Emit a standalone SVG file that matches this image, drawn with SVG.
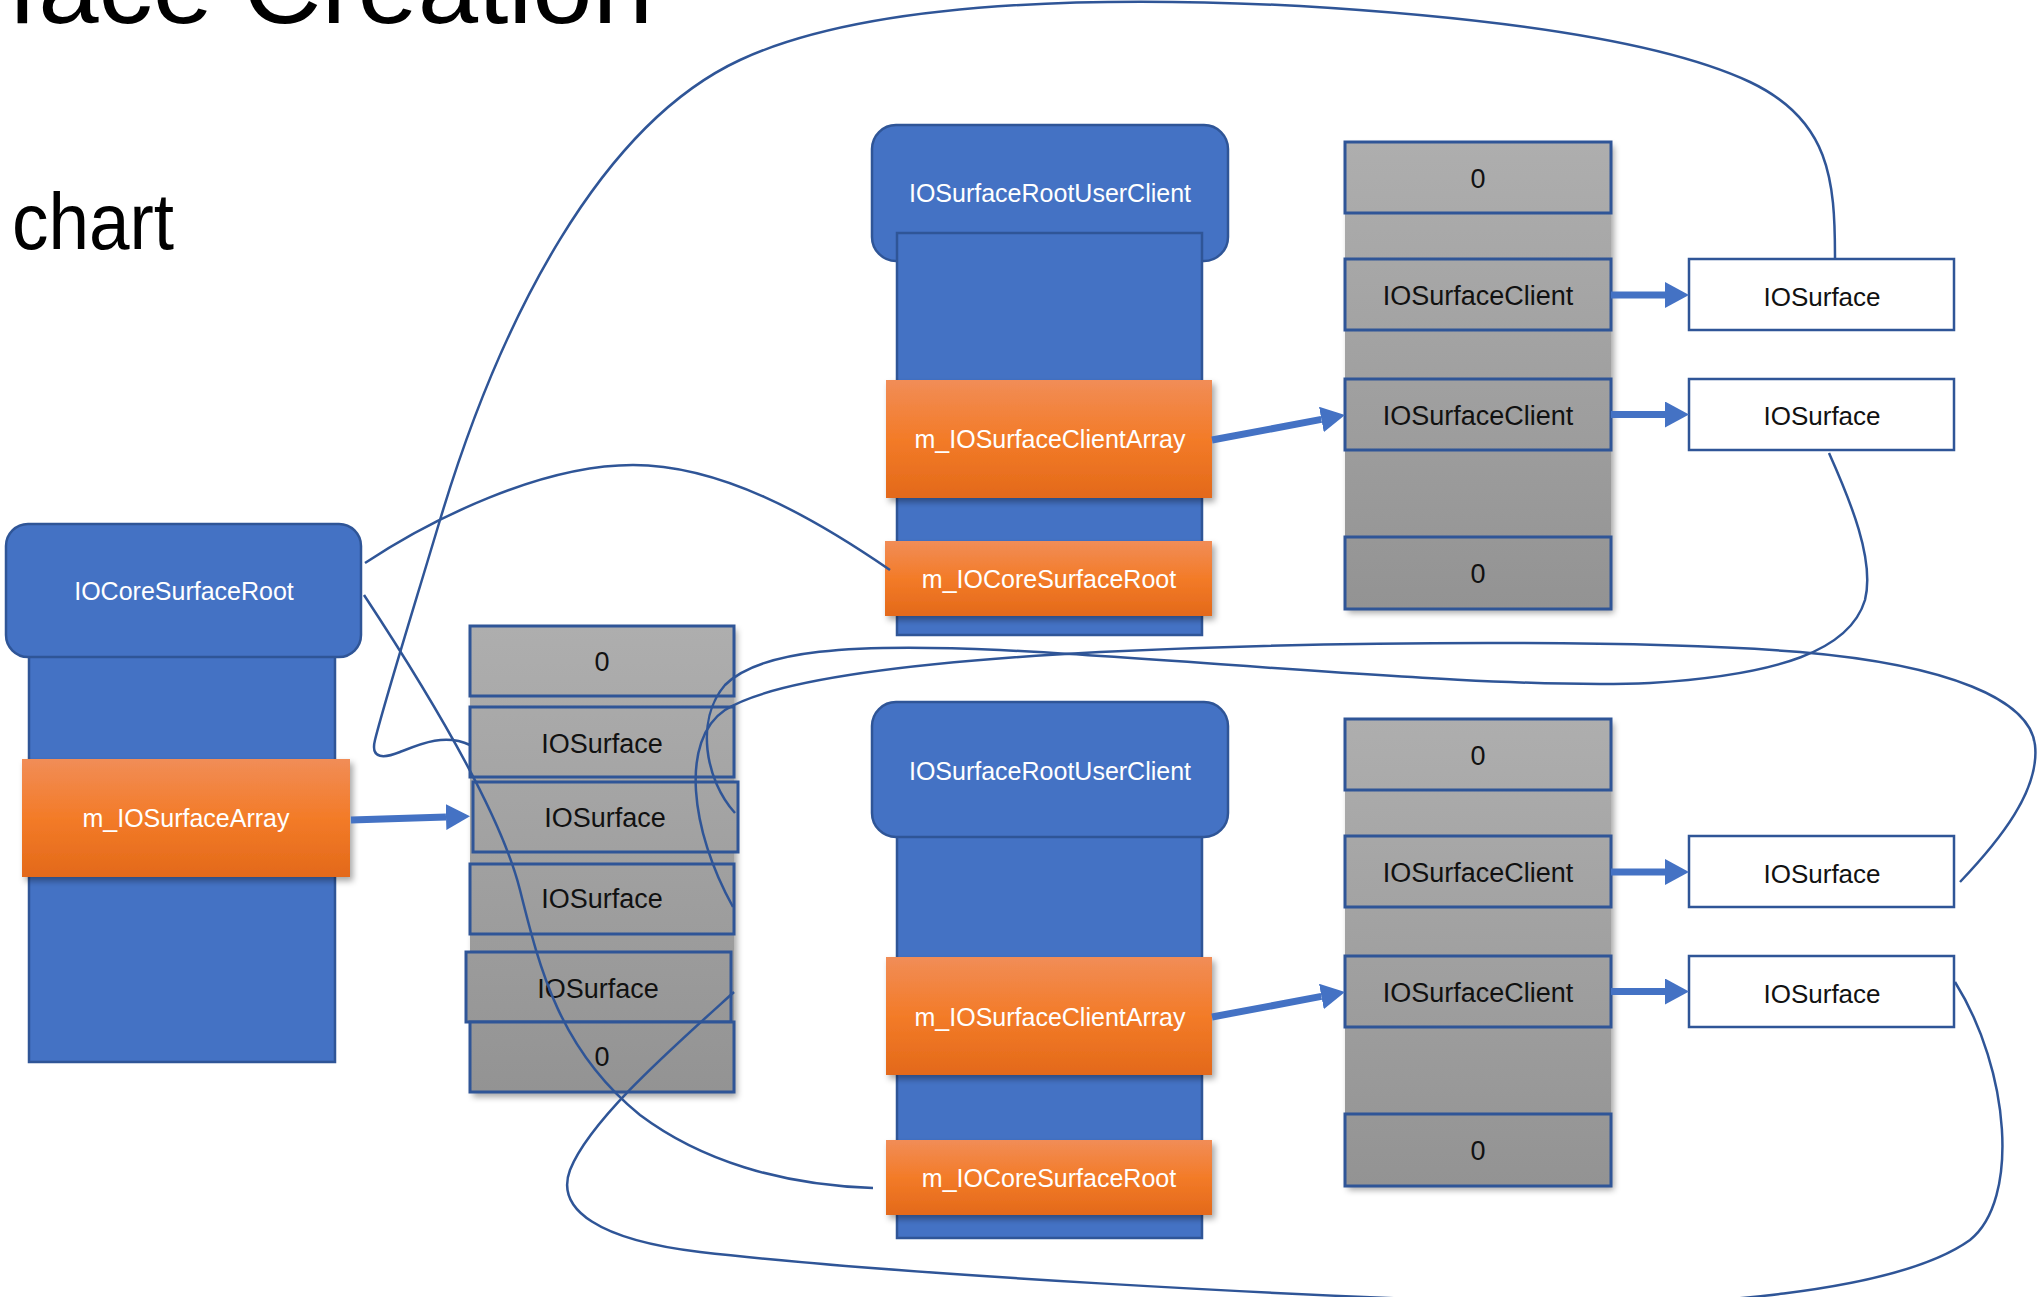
<svg xmlns="http://www.w3.org/2000/svg" width="2037" height="1297" viewBox="0 0 2037 1297">
<defs>
  <linearGradient id="orange" x1="0" y1="0" x2="0" y2="1">
    <stop offset="0" stop-color="#F18D57"/>
    <stop offset="0.5" stop-color="#F37B28"/>
    <stop offset="1" stop-color="#E3691A"/>
  </linearGradient>
  <linearGradient id="grayL" gradientUnits="userSpaceOnUse" x1="0" y1="626" x2="0" y2="1093">
    <stop offset="0" stop-color="#AEAEAE"/><stop offset="1" stop-color="#939393"/>
  </linearGradient>
  <linearGradient id="grayR1" gradientUnits="userSpaceOnUse" x1="0" y1="142" x2="0" y2="609">
    <stop offset="0" stop-color="#AEAEAE"/><stop offset="1" stop-color="#939393"/>
  </linearGradient>
  <linearGradient id="grayR2" gradientUnits="userSpaceOnUse" x1="0" y1="719" x2="0" y2="1186">
    <stop offset="0" stop-color="#AEAEAE"/><stop offset="1" stop-color="#939393"/>
  </linearGradient>
  <filter id="shadow" x="-10%" y="-10%" width="130%" height="130%">
    <feDropShadow dx="3" dy="4" stdDeviation="3" flood-color="#000" flood-opacity="0.35"/>
  </filter>
  <marker id="ah" markerUnits="userSpaceOnUse" viewBox="0 0 24 26" markerWidth="24" markerHeight="26" refX="0" refY="13" orient="auto">
    <path d="M0,0 L24,13 L0,26 z" fill="#4472C4"/>
  </marker>
  <style>
    .blue{fill:#4472C4;stroke:#2F5597;stroke-width:2.5}
    .org{fill:url(#orange);filter:url(#shadow)}
    .gbox{stroke:#2F5597;stroke-width:3}
    .wbox{fill:#FFFFFF;stroke:#2F5597;stroke-width:2.5}
    .conn{fill:none;stroke:#2F5597;stroke-width:2.5}
    .arrow{fill:none;stroke:#4472C4;stroke-width:7;marker-end:url(#ah)}
    text{font-family:"Liberation Sans",Arial,sans-serif;text-anchor:middle}
    .wt{fill:#FFFFFF;font-size:25px}
    .bt{fill:#111111;font-size:27px}
    .st{fill:#111111;font-size:26px}
    .title{fill:#000000;text-anchor:start}
  </style>
</defs>
<rect width="2037" height="1297" fill="#FFFFFF"/>

<g id="title">
  <text class="title" x="8" y="23" font-size="104" textLength="645" lengthAdjust="spacingAndGlyphs">face Creation</text>
  <text class="title" x="12" y="249" font-size="80" textLength="162" lengthAdjust="spacingAndGlyphs">chart</text>
</g>

<g id="IOCoreSurfaceRoot">
  <rect class="blue" x="29" y="640" width="306" height="422"/>
  <rect class="blue" x="6" y="524" width="355" height="133" rx="22"/>
  <text class="wt" x="184" y="600">IOCoreSurfaceRoot</text>
  <rect class="org" x="22" y="759" width="328" height="118"/>
  <text class="wt" x="186" y="827">m_IOSurfaceArray</text>
</g>

<g id="IOSurfaceArray">
  <rect x="470" y="626" width="264" height="467" fill="url(#grayL)" filter="url(#shadow)"/>
  <rect class="gbox" fill="url(#grayL)" x="470" y="626" width="264" height="70"/>
  <rect class="gbox" fill="url(#grayL)" x="470" y="707" width="264" height="70"/>
  <rect class="gbox" fill="url(#grayL)" x="473" y="782" width="265" height="70"/>
  <rect class="gbox" fill="url(#grayL)" x="470" y="864" width="264" height="70"/>
  <rect class="gbox" fill="url(#grayL)" x="466" y="952" width="265" height="70"/>
  <rect class="gbox" fill="url(#grayL)" x="470" y="1022" width="264" height="70"/>
  <text class="bt" x="602" y="671">0</text>
  <text class="bt" x="602" y="753">IOSurface</text>
  <text class="bt" x="605" y="827">IOSurface</text>
  <text class="bt" x="602" y="908">IOSurface</text>
  <text class="bt" x="598" y="998">IOSurface</text>
  <text class="bt" x="602" y="1066">0</text>
</g>

<g id="IOSurfaceRootUserClient1">
  <rect class="blue" x="872" y="125" width="356" height="136" rx="24"/>
  <rect class="blue" x="897" y="233" width="305" height="402"/>
  <text class="wt" x="1050" y="202">IOSurfaceRootUserClient</text>
  <rect class="org" x="886" y="380" width="326" height="118"/>
  <text class="wt" x="1050" y="448">m_IOSurfaceClientArray</text>
  <rect class="org" x="885" y="541" width="327" height="75"/>
  <text class="wt" x="1049" y="588">m_IOCoreSurfaceRoot</text>
</g>

<g id="IOSurfaceClientArray1">
  <rect x="1345" y="142" width="266" height="467" fill="url(#grayR1)" filter="url(#shadow)"/>
  <rect class="gbox" fill="url(#grayR1)" x="1345" y="142" width="266" height="71"/>
  <rect class="gbox" fill="url(#grayR1)" x="1345" y="259" width="266" height="71"/>
  <rect class="gbox" fill="url(#grayR1)" x="1345" y="379" width="266" height="71"/>
  <rect class="gbox" fill="url(#grayR1)" x="1345" y="537" width="266" height="72"/>
  <text class="bt" x="1478" y="188">0</text>
  <text class="bt" x="1478" y="305">IOSurfaceClient</text>
  <text class="bt" x="1478" y="425">IOSurfaceClient</text>
  <text class="bt" x="1478" y="583">0</text>
</g>

<g id="IOSurface1a">
  <rect class="wbox" x="1689" y="259" width="265" height="71"/>
  <text class="st" x="1822" y="306">IOSurface</text>
</g>
<g id="IOSurface1b">
  <rect class="wbox" x="1689" y="379" width="265" height="71"/>
  <text class="st" x="1822" y="425">IOSurface</text>
</g>

<g id="IOSurfaceRootUserClient2">
  <rect class="blue" x="897" y="812" width="305" height="426"/>
  <rect class="blue" x="872" y="702" width="356" height="135" rx="24"/>
  <text class="wt" x="1050" y="780">IOSurfaceRootUserClient</text>
  <rect class="org" x="886" y="957" width="326" height="118"/>
  <text class="wt" x="1050" y="1026">m_IOSurfaceClientArray</text>
  <rect class="org" x="886" y="1140" width="326" height="75"/>
  <text class="wt" x="1049" y="1187">m_IOCoreSurfaceRoot</text>
</g>

<g id="IOSurfaceClientArray2">
  <rect x="1345" y="719" width="266" height="467" fill="url(#grayR2)" filter="url(#shadow)"/>
  <rect class="gbox" fill="url(#grayR2)" x="1345" y="719" width="266" height="71"/>
  <rect class="gbox" fill="url(#grayR2)" x="1345" y="836" width="266" height="71"/>
  <rect class="gbox" fill="url(#grayR2)" x="1345" y="956" width="266" height="71"/>
  <rect class="gbox" fill="url(#grayR2)" x="1345" y="1114" width="266" height="72"/>
  <text class="bt" x="1478" y="765">0</text>
  <text class="bt" x="1478" y="882">IOSurfaceClient</text>
  <text class="bt" x="1478" y="1002">IOSurfaceClient</text>
  <text class="bt" x="1478" y="1160">0</text>
</g>

<g id="IOSurface2a">
  <rect class="wbox" x="1689" y="836" width="265" height="71"/>
  <text class="st" x="1822" y="883">IOSurface</text>
</g>
<g id="IOSurface2b">
  <rect class="wbox" x="1689" y="956" width="265" height="71"/>
  <text class="st" x="1822" y="1003">IOSurface</text>
</g>

<g id="connectors">
  <path class="arrow" d="M351,820 L446,817"/>
  <path class="arrow" d="M1212,440 L1321.4,419.4"/>
  <path class="arrow" d="M1212,1017 L1321.4,996.4"/>
  <path class="arrow" d="M1611,295 L1665,295"/>
  <path class="arrow" d="M1611,414.5 L1665,414.5"/>
  <path class="arrow" d="M1611,872 L1665,872"/>
  <path class="arrow" d="M1611,991.5 L1665,991.5"/>

  <path class="conn" d="M365,563 C430,520 540,465 633,465 C720,465 810,515 890,570"/>
  <path class="conn" d="M364,595 C420,680 500,810 520,890 C540,970 560,1050 640,1115 C700,1160 780,1185 873,1188"/>
  <path class="conn" d="M734,992 C670,1050 590,1120 570,1170 C555,1210 600,1240 700,1252 C900,1275 1300,1296 1500,1302 C1700,1312 1900,1290 1970,1240 C2020,1200 2010,1070 1955,982"/>
  <path class="conn" d="M1835,258 C1835,180 1830,120 1750,82 C1650,35 1450,15 1300,6 C1100,-4 870,0 740,60 C600,125 500,320 440,520 C410,620 385,700 375,740 C370,760 385,758 400,752 C420,744 445,733 470,745"/>
  <path class="conn" d="M1829,453 C1850,500 1875,560 1865,600 C1850,650 1780,675 1650,683 C1500,690 1200,660 1000,650 C850,643 760,650 725,685 C695,720 705,780 735,813"/>
  <path class="conn" d="M1960,882 C2000,840 2040,790 2035,745 C2030,700 1950,665 1800,652 C1650,640 1350,640 1100,652 C950,660 780,675 725,710 C680,740 690,830 733,907"/>
</g>
</svg>
